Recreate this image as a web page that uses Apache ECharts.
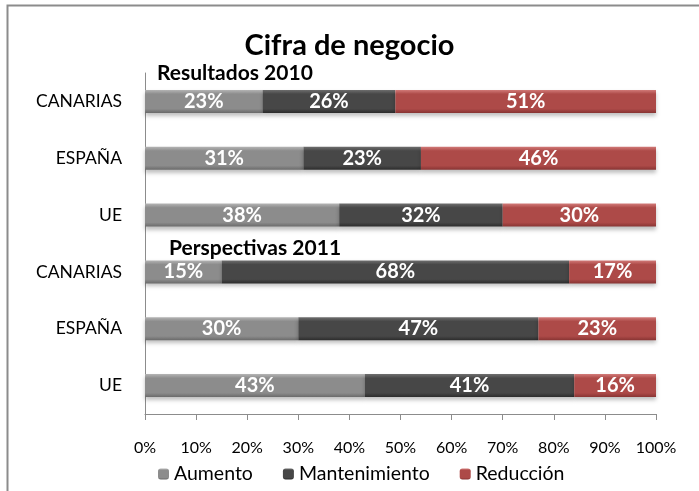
<!DOCTYPE html>
<html>
<head>
<meta charset="utf-8">
<script src="https://cdn.jsdelivr.net/npm/echarts@6/dist/echarts.min.js"></script>
<style>
    html, body { margin: 0; padding: 0; background: #fff; }
    #chart { width: 699px; height: 491px; }
</style>
</head>
<body>
<div id="chart"></div>
<script>
// categorias de arriba a abajo
const regions = ['CANARIAS', 'ESPAÑA', 'UE', 'CANARIAS', 'ESPAÑA', 'UE'];
const aumento = [23, 31, 38, 15, 30, 43];
const mantenimiento = [26, 23, 32, 68, 47, 41];
const reduccion = [51, 46, 30, 17, 23, 16];
const xTicks = [0, 10, 20, 30, 40, 50, 60, 70, 80, 90, 100];

const FONT = 'Lato';

// degradado vertical para imitar el biselado de Excel
const bevel = (top, mid, bottom) => new echarts.graphic.LinearGradient(0, 0, 0, 1, [
    { offset: 0, color: top },
    { offset: 0.18, color: mid },
    { offset: 0.82, color: mid },
    { offset: 1, color: bottom }
]);

const makeSeries = (name, data, colors) => ({
    name: name,
    type: 'bar',
    stack: 'total',
    barWidth: 23,
    data: data,
    itemStyle: {
        color: bevel(colors[0], colors[1], colors[2]),
        shadowColor: 'rgba(0,0,0,0.25)',
        shadowBlur: 4,
        shadowOffsetY: 3
    },
    label: {
        show: true,
        position: 'inside',
        formatter: '{c}%',
        color: '#fff',
        fontFamily: FONT,
        fontWeight: 'bold',
        fontSize: 20
    }
});

const myChart = echarts.init(document.getElementById('chart'), null, { renderer: 'canvas' });

const option = {
    animation: false,
    backgroundColor: '#fff',
    title: [
        {
            text: 'Cifra de negocio',
            left: 'center',
            top: 26,
            textStyle: { fontFamily: FONT, fontWeight: 'bold', fontSize: 29, color: '#000' }
        },
        {
            text: 'Resultados 2010',
            left: 152,
            top: 58,
            textStyle: { fontFamily: FONT, fontWeight: 'bold', fontSize: 21, color: '#000' }
        },
        {
            text: 'Perspectivas 2011',
            left: 164,
            top: 233,
            textStyle: { fontFamily: FONT, fontWeight: 'bold', fontSize: 21, color: '#000' }
        }
    ],
    legend: {
        top: 459,
        left: 153,
        itemWidth: 11,
        itemHeight: 11,
        itemGap: 30,
        textStyle: { fontFamily: FONT, fontSize: 19.5, color: '#000' },
        data: ['Aumento', 'Mantenimiento', 'Reducción']
    },
    grid: {
        left: 145,
        right: 43,
        top: 73,
        bottom: 77,
        containLabel: false
    },
    xAxis: {
        type: 'value',
        min: xTicks[0],
        max: xTicks[xTicks.length - 1],
        interval: 10,
        splitLine: { show: false },
        axisLine: { show: true, lineStyle: { color: '#8c8c8c', width: 1 } },
        axisTick: { show: true, length: 6, lineStyle: { color: '#8c8c8c' } },
        axisLabel: {
            formatter: '{value}%',
            margin: 26,
            color: '#000',
            fontFamily: FONT,
            fontSize: 16
        }
    },
    yAxis: {
        type: 'category',
        inverse: true,
        data: regions,
        axisLine: { show: true, lineStyle: { color: '#8c8c8c', width: 1 } },
        axisTick: { show: false },
        axisLabel: {
            margin: 23,
            color: '#000',
            fontFamily: FONT,
            fontSize: 17.5
        }
    },
    graphic: [
        {
            type: 'rect',
            left: 5,
            top: 3,
            shape: { width: 800, height: 600 },
            style: { fill: 'none', stroke: '#8c8c8c', lineWidth: 2 },
            silent: true
        }
    ],
    series: [
        makeSeries('Aumento', aumento, ['#b4b4b4', '#8c8c8c', '#6a6a6a']),
        makeSeries('Mantenimiento', mantenimiento, ['#6e6e6e', '#474747', '#2c2c2c']),
        makeSeries('Reducción', reduccion, ['#d27a78', '#ad4a48', '#883433'])
    ]
};

myChart.setOption(option);
window.addEventListener('resize', () => {
    myChart.resize();
});
</script>
</body>
</html>
